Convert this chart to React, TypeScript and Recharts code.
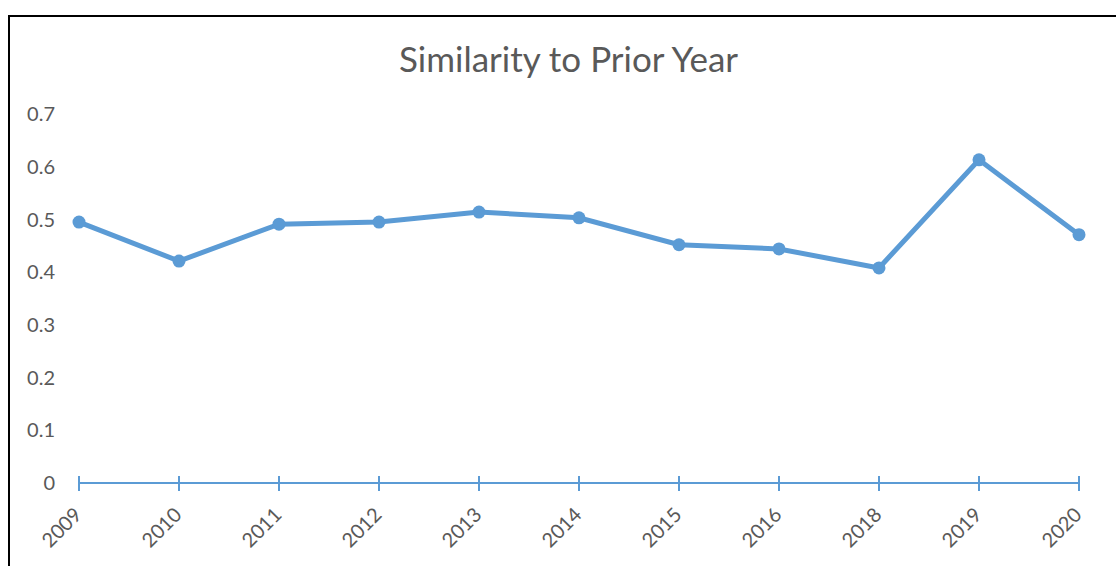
import { LineChart, Line, XAxis, YAxis } from 'recharts';

const years = ['2009', '2010', '2011', '2012', '2013', '2014', '2015', '2016', '2018', '2019', '2020'];
const similarity = [0.495, 0.421, 0.491, 0.495, 0.514, 0.503, 0.452, 0.444, 0.408, 0.613, 0.471];
const yTicks = [0, 0.1, 0.2, 0.3, 0.4, 0.5, 0.6, 0.7];

const data = years.map((year, i) => ({ year, value: similarity[i] }));

const BLUE = '#5B9BD5';
const GREY = '#595959';
const FONT = 'Lato, "Open Sans", sans-serif';

// Excel-style cross tick plus a 45 degree label
function YearTick(props: any) {
  const { x, y, payload } = props;
  const lx = x + 4;
  const ly = y + 33;
  return (
    <g>
      <line x1={x} y1={y - 7} x2={x} y2={y + 8} stroke={BLUE} strokeWidth={2} />
      <text
        x={lx}
        y={ly}
        textAnchor="end"
        fill={GREY}
        fontSize={20}
        fontFamily={FONT}
        transform={`rotate(-45 ${lx} ${ly})`}
      >
        {payload.value}
      </text>
    </g>
  );
}

export default function App() {
  return (
    <div style={{ position: 'fixed', left: 0, top: 0, width: 1116, height: 566, background: '#fff', overflow: 'hidden' }}>
      <div
        style={{
          position: 'absolute',
          left: 8,
          top: 15,
          width: 1200,
          height: 700,
          borderLeft: '2px solid #000',
          borderTop: '2px solid #000',
        }}
      />
      <div
        style={{
          position: 'absolute',
          left: 0,
          width: 1137,
          top: 37,
          textAlign: 'center',
          fontFamily: FONT,
          fontSize: 35,
          lineHeight: '42px',
          color: GREY,
        }}
      >
        Similarity to Prior Year
      </div>
      <div style={{ position: 'absolute', left: 0, top: 0 }}>
        <LineChart width={1116} height={566} data={data} margin={{ top: 114, right: 37, left: 19, bottom: 23 }}>
          <XAxis
            dataKey="year"
            height={60}
            padding={{ left: 0, right: 0 }}
            axisLine={{ stroke: BLUE, strokeWidth: 2 }}
            tickLine={false}
            tickSize={0}
            tickMargin={0}
            interval={0}
            tick={<YearTick />}
          />
          <YAxis
            width={60}
            domain={[0, 0.7]}
            ticks={yTicks}
            axisLine={false}
            tickLine={false}
            tickSize={0}
            tickMargin={24}
            tick={{ fill: GREY, fontSize: 20, fontFamily: FONT }}
          />
          <Line
            type="linear"
            dataKey="value"
            stroke={BLUE}
            strokeWidth={5}
            dot={{ r: 6.5, fill: BLUE, stroke: BLUE, strokeWidth: 0 }}
            activeDot={false}
            isAnimationActive={false}
          />
        </LineChart>
      </div>
    </div>
  );
}
